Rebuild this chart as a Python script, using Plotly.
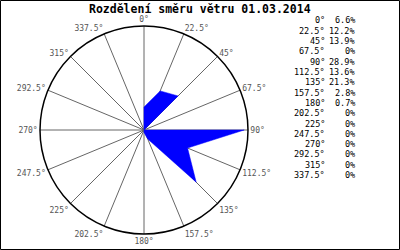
import plotly.graph_objects as go

directions = [0, 22.5, 45, 67.5, 90, 112.5, 135, 157.5, 180, 202.5, 225, 247.5, 270, 292.5, 315, 337.5]
dir_labels = ["0°", "22.5°", "45°", "67.5°", "90°", "112.5°", "135°", "157.5°", "180°",
              "202.5°", "225°", "247.5°", "270°", "292.5°", "315°", "337.5°"]
shares = [6.6, 12.2, 13.9, 0, 28.9, 13.6, 21.3, 2.8, 0.7, 0, 0, 0, 0, 0, 0, 0]
share_labels = ["6.6%", "12.2%", "13.9%", "0%", "28.9%", "13.6%", "21.3%", "2.8%", "0.7%",
                "0%", "0%", "0%", "0%", "0%", "0%", "0%"]
title_text = "Rozdělení směru větru 01.03.2014"

W, H = 400, 250
mono = "DejaVu Sans Mono"

fig = go.Figure()
fig.add_trace(go.Scatterpolar(
    r=shares + [shares[0]],
    theta=directions + [directions[0]],
    mode="lines",
    fill="toself",
    fillcolor="#0000FF",
    line=dict(color="#0000FF", width=0.5),
    hoverinfo="skip",
))

cx, cy, R = 144, 130, 104
fig.update_layout(
    width=W, height=H,
    margin=dict(l=0, r=0, t=0, b=0),
    paper_bgcolor="white",
    showlegend=False,
    polar=dict(
        domain=dict(x=[(cx - R) / W, (cx + R) / W], y=[(H - cy - R) / H, (H - cy + R) / H]),
        bgcolor="white",
        radialaxis=dict(range=[0, 30], showgrid=False, showticklabels=False, showline=False, ticks=""),
        angularaxis=dict(
            rotation=90, direction="clockwise",
            tickmode="array", tickvals=directions, ticktext=dir_labels,
            ticks="", showgrid=True, gridcolor="#666666", gridwidth=1,
            showline=True, linecolor="black", linewidth=1.5,
            tickfont=dict(family=mono, size=8, color="#555555"),
        ),
    ),
)

fig.add_annotation(text="<b>" + title_text + "</b>", x=0.5, y=1 - 9 / H, xref="paper", yref="paper",
                   showarrow=False, xanchor="center", yanchor="middle",
                   font=dict(family=mono, size=11.5, color="black"))

y0, dy = 20.5, 10.3
for i, (a, s) in enumerate(zip(dir_labels, share_labels)):
    yy = 1 - (y0 + i * dy) / H
    fig.add_annotation(text=a, x=327 / W, y=yy, xref="paper", yref="paper", showarrow=False,
                       xanchor="right", yanchor="middle", font=dict(family=mono, size=8.5, color="black"))
    fig.add_annotation(text=s, x=357 / W, y=yy, xref="paper", yref="paper", showarrow=False,
                       xanchor="right", yanchor="middle", font=dict(family=mono, size=8.5, color="black"))

fig.add_shape(type="rect", xref="paper", yref="paper",
              x0=0.5 / W, x1=1 - 0.5 / W, y0=0.5 / H, y1=1 - 0.5 / H,
              line=dict(color="black", width=1))

fig.write_html("out.html")
